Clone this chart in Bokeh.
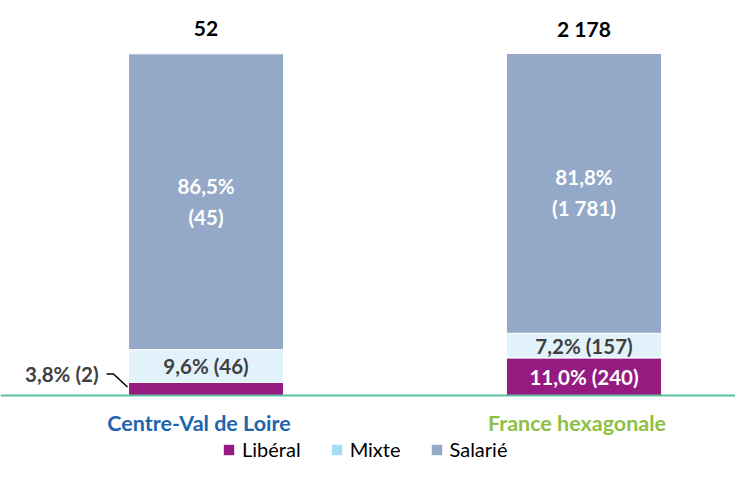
from bokeh.plotting import figure
from bokeh.models import ColumnDataSource, Range1d, Span, Legend, LegendItem
from bokeh.core.properties import value
from bokeh.embed import file_html
from bokeh.resources import INLINE

# ---- data ----
categories = ["Centre-Val de Loire", "France hexagonale"]
cat_colors = ["#1F64AE", "#8DC044"]
liberal_pct = [3.8, 11.0]
mixte_pct = [9.6, 7.2]
salarie_pct = [86.5, 81.8]
liberal_n = [2, 240]
mixte_n = [46, 157]
salarie_n = [45, 1781]
totals = [52, 2178]
series = ["Libéral", "Mixte", "Salarié"]

# ---- styles ----
FONT = "Lato"
C_LIB = "#951B81"
C_MIX = "#E1F2FB"
C_MIX_LEG = "#A5DDF8"
C_SAL = "#93A9C7"
DARK = "#404040"
LBL = "20.5px"


def fr_num(n):
    return f"{n:,}".replace(",", " ")


def fr_pct(v):
    return f"{v:.1f}%".replace(".", ",")


xs = list(range(len(categories)))
BAR_W = 0.41

src = ColumnDataSource(dict(
    x=xs, lib=liberal_pct, mix=mixte_pct, sal=salarie_pct,
))

X0, X1 = -0.5437, 1.4008
Y0, Y1 = -19.30, 115.50
W, H = 735, 461
px_x = (X1 - X0) / W      # data units per pixel (x)
px_y = (Y1 - Y0) / H      # data units per pixel (y)

p = figure(width=W, height=H, x_range=Range1d(X0, X1), y_range=Range1d(Y0, Y1),
           x_axis_type=None, y_axis_type=None, toolbar_location=None,
           output_backend="svg", min_border=0, outline_line_color=None)
p.background_fill_color = "white"

bars = p.vbar_stack(["lib", "mix", "sal"], x="x", width=BAR_W, source=src,
                    fill_color=[C_LIB, C_MIX, C_SAL], line_color="white", line_width=1)

p.add_layout(Span(location=0, dimension="width", line_color="#5CBFA0", line_width=2))

# totals above bars
tops = [l + m + s for l, m, s in zip(liberal_pct, mixte_pct, salarie_pct)]
p.text(x=xs, y=tops, text=[fr_num(t) for t in totals], y_offset=-25,
       text_align="center", text_baseline="middle", text_color="black",
       text_font=value(FONT), text_font_style="bold", text_font_size="21px")

# salarié labels (two lines)
sal_c = [l + m + s / 2 for l, m, s in zip(liberal_pct, mixte_pct, salarie_pct)]
p.text(x=xs, y=sal_c, text=[fr_pct(v) for v in salarie_pct], y_offset=-16,
       text_align="center", text_baseline="middle", text_color="white",
       text_font=value(FONT), text_font_style="bold", text_font_size=LBL)
p.text(x=xs, y=sal_c, text=[f"({fr_num(n)})" for n in salarie_n], y_offset=15,
       text_align="center", text_baseline="middle", text_color="white",
       text_font=value(FONT), text_font_style="bold", text_font_size=LBL)

# mixte labels
mix_c = [l + m / 2 for l, m in zip(liberal_pct, mixte_pct)]
p.text(x=xs, y=mix_c, text=[f"{fr_pct(v)} ({fr_num(n)})" for v, n in zip(mixte_pct, mixte_n)],
       text_align="center", text_baseline="middle", text_color=DARK,
       text_font=value(FONT), text_font_style="bold", text_font_size=LBL)

# libéral labels: inside for France, outside with leader for CVL
lib_c = [l / 2 for l in liberal_pct]
p.text(x=[xs[1]], y=[lib_c[1]], text=[f"{fr_pct(liberal_pct[1])} ({fr_num(liberal_n[1])})"],
       text_align="center", text_baseline="middle", text_color="white",
       text_font=value(FONT), text_font_style="bold", text_font_size=LBL)

left_edge = xs[0] - BAR_W / 2
lab_y = lib_c[0] + 15 * px_y
p.text(x=[left_edge], y=[lab_y], x_offset=-30,
       text=[f"{fr_pct(liberal_pct[0])} ({fr_num(liberal_n[0])})"],
       text_align="right", text_baseline="middle", text_color=DARK,
       text_font=value(FONT), text_font_style="bold", text_font_size=LBL)
p.line(x=[left_edge - 22 * px_x, left_edge - 15 * px_x, left_edge - 1 * px_x],
       y=[lab_y, lab_y, lab_y - 13 * px_y], line_color="black", line_width=1.5)

# category labels
p.text(x=xs, y=[0, 0], text=categories, x_offset=-7, y_offset=28,
       text_align="center", text_baseline="middle", text_color=cat_colors,
       text_font=value(FONT), text_font_style="bold", text_font_size="21.5px")

# legend: hidden renderers carrying the legend swatch colours
r_lib = p.vbar(x="x", top="lib", width=BAR_W, source=src, fill_color=C_LIB,
               line_color=None, visible=False)
r_mix = p.vbar(x="x", top="mix", width=BAR_W, source=src, fill_color=C_MIX_LEG,
               line_color=None, visible=False)
r_sal = p.vbar(x="x", top="sal", width=BAR_W, source=src, fill_color=C_SAL,
               line_color=None, visible=False)
legend = Legend(items=[LegendItem(label=series[0], renderers=[r_lib]),
                       LegendItem(label=series[1], renderers=[r_mix]),
                       LegendItem(label=series[2], renderers=[r_sal])],
                orientation="horizontal", location=(222, 0), padding=0, margin=0,
                spacing=29, label_standoff=7, glyph_width=13, glyph_height=13,
                label_height=13,
                label_text_font=FONT, label_text_font_size="20px", label_text_color="black",
                border_line_color=None, background_fill_alpha=0,
                inactive_fill_alpha=0)
p.add_layout(legend, "center")

open("out.html", "w").write(file_html(p, INLINE))
